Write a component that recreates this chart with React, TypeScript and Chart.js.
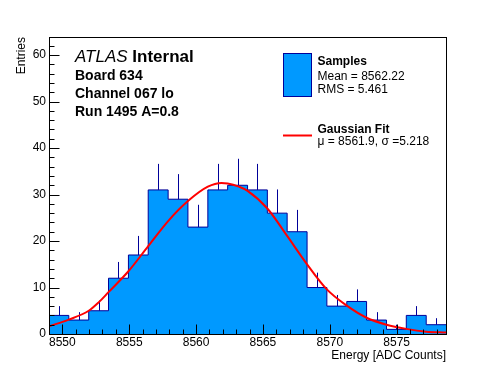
import React, { useEffect, useRef } from "react";
import { Chart, registerables } from "chart.js";

Chart.register(...registerables);

// ---------- data ----------
const binEdges = [
  8549.0, 8550.48, 8551.97, 8553.45, 8554.94, 8556.42, 8557.91, 8559.39, 8560.88, 8562.36,
  8563.85, 8565.33, 8566.81, 8568.3, 8569.78, 8571.27, 8572.75, 8574.24, 8575.72, 8577.21, 8578.69,
];
const counts = [4, 3, 5, 12, 17, 31, 29, 23, 31, 32, 31, 26, 22, 10, 6, 7, 3, 1, 4, 2];
const errors = [2.0, 1.7, 2.2, 3.5, 4.1, 5.6, 5.4, 4.8, 5.6, 5.7, 5.6, 5.1, 4.7, 3.2, 2.4, 2.6, 1.7, 1.0, 2.0, 1.4];

const fitX = [
  8549.0, 8550.48, 8551.97, 8552.71, 8553.45, 8554.94, 8556.42, 8557.91, 8559.39, 8560.88,
  8561.9, 8562.36, 8563.2, 8563.85, 8565.33, 8566.81, 8568.3, 8569.78, 8571.27, 8572.75,
  8574.24, 8575.72, 8577.21, 8578.69,
];
const fitY = [
  1.65, 3.1, 5.0, 6.8, 9.0, 13.5, 18.9, 24.3, 28.6, 31.7,
  32.5, 32.4, 31.7, 30.8, 27.0, 21.1, 15.0, 9.6, 6.1, 3.5,
  2.0, 1.1, 0.5, 0.3,
];

const xMajorTicks = [8550, 8555, 8560, 8565, 8570, 8575];
const yMajorTicks = [0, 10, 20, 30, 40, 50, 60];
const xMinorStep = 1;
const yMinorStep = 2;
const xRange = [8549.0, 8578.69];
const yRange = [0, 63.9];

const xTitle = "Energy [ADC Counts]";
const yTitle = "Entries";
const infoLines = ["Board 634", "Channel 067 lo", "Run 1495 A=0.8"];
const legendHist = ["Samples", "Mean = 8562.22", "RMS = 5.461"];
const legendFit = ["Gaussian Fit", "\u03bc = 8561.9, \u03c3 =5.218"];

const FONT = "'Liberation Sans', Arial, Helvetica, sans-serif";
const FILL = "#0099ff";
const EDGE = "#000099";
const RED = "#ff0000";

const decorPlugin = {
  id: "rootDecor",
  afterDatasetDraw(chart: any, args: any) {
    if (args.meta.label !== "hist") return;
    const { ctx, chartArea } = chart;
    const xs = chart.scales.x;
    const ys = chart.scales.y;
    ctx.save();
    ctx.beginPath();
    ctx.rect(chartArea.left, chartArea.top, chartArea.right - chartArea.left, chartArea.bottom - chartArea.top);
    ctx.clip();
    ctx.strokeStyle = EDGE;
    ctx.lineWidth = 1;
    for (let i = 0; i < counts.length; i++) {
      const cx = Math.round(xs.getPixelForValue((binEdges[i] + binEdges[i + 1]) / 2)) + 0.5;
      const y1 = ys.getPixelForValue(counts[i]);
      const y2 = ys.getPixelForValue(counts[i] + errors[i]);
      ctx.beginPath();
      ctx.moveTo(cx, y1);
      ctx.lineTo(cx, y2);
      ctx.stroke();
    }
    ctx.restore();
  },
  afterDraw(chart: any) {
    const { ctx, chartArea } = chart;
    const xs = chart.scales.x;
    const ys = chart.scales.y;
    const L = chartArea.left + 0.5;
    const R = chartArea.right + 0.5;
    const T = chartArea.top + 0.5;
    const B = chartArea.bottom + 0.5;
    ctx.save();
    // frame
    ctx.strokeStyle = "#000";
    ctx.lineWidth = 1;
    ctx.strokeRect(L, T, R - L, B - T);
    // inward ticks
    ctx.beginPath();
    for (let v = Math.ceil(xRange[0]); v <= xRange[1]; v += xMinorStep) {
      const px = Math.round(xs.getPixelForValue(v)) + 0.5;
      const major = xMajorTicks.includes(v);
      ctx.moveTo(px, B);
      ctx.lineTo(px, B - (major ? 10 : 5));
    }
    for (let v = yRange[0]; v <= yRange[1]; v += yMinorStep) {
      const py = Math.round(ys.getPixelForValue(v)) + 0.5;
      const major = yMajorTicks.includes(v);
      ctx.moveTo(L, py);
      ctx.lineTo(L + (major ? 10 : 5), py);
    }
    ctx.stroke();

    // ATLAS label
    ctx.fillStyle = "#000";
    ctx.textBaseline = "middle";
    ctx.textAlign = "left";
    ctx.font = `italic 17px ${FONT}`;
    const atlasW = ctx.measureText("ATLAS ").width;
    ctx.fillText("ATLAS", 75, 57.5);
    ctx.font = `bold 17px ${FONT}`;
    ctx.fillText("Internal", 75 + atlasW, 57.5);
    ctx.font = `bold 14px ${FONT}`;
    const infoY = [76, 94, 112.5];
    infoLines.forEach((t, i) => ctx.fillText(t, 75, infoY[i]));

    // legend: histogram entry
    ctx.fillStyle = FILL;
    ctx.fillRect(283.5, 53.5, 28, 43);
    ctx.strokeStyle = EDGE;
    ctx.strokeRect(283.5, 53.5, 28, 43);
    ctx.fillStyle = "#000";
    ctx.font = `bold 12px ${FONT}`;
    ctx.fillText(legendHist[0], 317.5, 61.7);
    ctx.font = `12px ${FONT}`;
    ctx.fillText(legendHist[1], 317.5, 76.7);
    ctx.fillText(legendHist[2], 317.5, 90);

    // legend: fit entry
    ctx.strokeStyle = RED;
    ctx.lineWidth = 2;
    ctx.beginPath();
    ctx.moveTo(283, 135.5);
    ctx.lineTo(312, 135.5);
    ctx.stroke();
    ctx.font = `bold 12px ${FONT}`;
    ctx.fillText(legendFit[0], 317.5, 129.3);
    ctx.font = `12px ${FONT}`;
    ctx.fillText(legendFit[1], 317.5, 142);
    ctx.restore();
  },
};

export default function App() {
  const canvasRef = useRef<HTMLCanvasElement | null>(null);

  useEffect(() => {
    const canvas = canvasRef.current;
    if (!canvas) return;

    const histPoints = binEdges.map((e, i) => ({ x: e, y: counts[Math.min(i, counts.length - 1)] }));
    const fitPoints = fitX.map((x, i) => ({ x, y: fitY[i] }));

    const chart = new Chart(canvas, {
      type: "line",
      data: {
        datasets: [
          {
            label: "fit",
            data: fitPoints,
            borderColor: RED,
            borderWidth: 2,
            pointRadius: 0,
            fill: false,
            cubicInterpolationMode: "monotone",
            order: 0,
          },
          {
            label: "hist",
            data: histPoints,
            stepped: "before",
            borderColor: EDGE,
            borderWidth: 1,
            backgroundColor: FILL,
            pointRadius: 0,
            fill: "origin",
            order: 1,
          },
        ],
      },
      options: {
        responsive: false,
        maintainAspectRatio: false,
        animation: false,
        devicePixelRatio: 1,
        layout: { padding: { left: 0, top: 37, right: 50, bottom: 0 } },
        plugins: { legend: { display: false }, tooltip: { enabled: false } },
        scales: {
          x: {
            type: "linear",
            min: xRange[0],
            max: xRange[1],
            grid: { display: false, drawTicks: false },
            border: { display: false },
            ticks: {
              color: "#000",
              font: { family: FONT, size: 12 },
              padding: 1.5,
              maxRotation: 0,
              autoSkip: false,
              callback: (v: any) => String(v),
            },
            afterBuildTicks: (scale: any) => {
              scale.ticks = xMajorTicks.map((v) => ({ value: v }));
            },
            afterFit: (scale: any) => {
              scale.height = 38;
            },
            title: {
              display: true,
              text: xTitle,
              align: "end",
              color: "#000",
              font: { family: FONT, size: 12 },
              padding: { top: 0, bottom: 9 },
            },
          },
          y: {
            type: "linear",
            min: yRange[0],
            max: yRange[1],
            grid: { display: false, drawTicks: false },
            border: { display: false },
            ticks: {
              color: "#000",
              font: { family: FONT, size: 12 },
              padding: 3,
              autoSkip: false,
              callback: (v: any) => String(v),
            },
            afterBuildTicks: (scale: any) => {
              scale.ticks = yMajorTicks.map((v) => ({ value: v }));
            },
            afterFit: (scale: any) => {
              scale.width = 49;
            },
            title: {
              display: true,
              text: yTitle,
              align: "end",
              color: "#000",
              font: { family: FONT, size: 12 },
              padding: { top: 14, bottom: 0 },
            },
          },
        },
      },
      plugins: [decorPlugin],
    });

    return () => chart.destroy();
  }, []);

  return (
    <div style={{ position: "absolute", left: 0, top: 0, width: 496, height: 372, background: "#fff" }}>
      <canvas ref={canvasRef} width={496} height={372} style={{ width: 496, height: 372, display: "block" }} />
    </div>
  );
}
